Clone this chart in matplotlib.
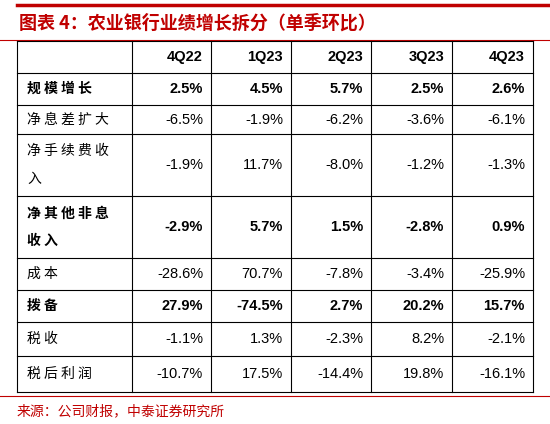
import matplotlib.pyplot as plt

plt.rcParams['font.family'] = ['Noto Sans CJK SC', 'DejaVu Sans']

title = "图表 4：农业银行业绩增长拆分（单季环比）"
source = "来源：公司财报，中泰证券研究所"
quarters = ["4Q22", "1Q23", "2Q23", "3Q23", "4Q23"]
row_labels = ["规模增长", "净息差扩大", "净手续费收\n入", "净其他非息\n收入", "成本", "拨备", "税收", "税后利润"]
bold_rows = [True, False, False, True, False, True, False, False]
values = [
    ["2.5%", "4.5%", "5.7%", "2.5%", "2.6%"],
    ["-6.5%", "-1.9%", "-6.2%", "-3.6%", "-6.1%"],
    ["-1.9%", "11.7%", "-8.0%", "-1.2%", "-1.3%"],
    ["-2.9%", "5.7%", "1.5%", "-2.8%", "0.9%"],
    ["-28.6%", "70.7%", "-7.8%", "-3.4%", "-25.9%"],
    ["27.9%", "-74.5%", "2.7%", "20.2%", "15.7%"],
    ["-1.1%", "1.3%", "-2.3%", "8.2%", "-2.1%"],
    ["-10.7%", "17.5%", "-14.4%", "19.8%", "-16.1%"],
]

red = "#C00000"
col_x = [17, 132, 211, 291, 371, 452, 533]
row_y = [41, 73, 105, 134, 196, 258, 290, 322, 356, 392]

fig = plt.figure(figsize=(5.5, 4.24), dpi=100)
ax = fig.add_axes([0, 0, 1, 1])
ax.set_xlim(0, 550)
ax.set_ylim(424, 0)
ax.axis('off')

# title and red rules
ax.plot([17, 550], [5, 5], color=red, lw=2.5)
ax.text(19, 23, title, color=red, fontsize=13, fontweight='bold', va='center')
ax.plot([0, 550], [40, 40], color=red, lw=0.8)

# grid
for x in col_x:
    ax.plot([x, x], [row_y[0], row_y[-1]], color='black', lw=0.8)
for y in row_y:
    ax.plot([col_x[0], col_x[-1]], [y, y], color='black', lw=0.8)

num_font = 'Liberation Sans'
for j, q in enumerate(quarters):
    ax.text(col_x[j + 2] - 8, (row_y[0] + row_y[1]) / 2, q, ha='right', va='center',
            fontsize=10.5, fontweight='bold', family=num_font)

for i, lab in enumerate(row_labels):
    yc = (row_y[i + 1] + row_y[i + 2]) / 2
    w = 'bold' if bold_rows[i] else 'normal'
    spaced = '\n'.join(' '.join(part) for part in lab.split('\n'))
    ax.text(27, yc, spaced, ha='left', va='center', fontsize=10, fontweight=w, linespacing=2.2)
    for j, v in enumerate(values[i]):
        ax.text(col_x[j + 2] - 8, yc, v, ha='right', va='center', fontsize=10.5,
                fontweight=w, family=num_font)

ax.plot([0, 550], [396, 396], color=red, lw=0.8)
ax.text(17, 411, source, color=red, fontsize=10, va='center')

fig.savefig('out.png', dpi=100)
